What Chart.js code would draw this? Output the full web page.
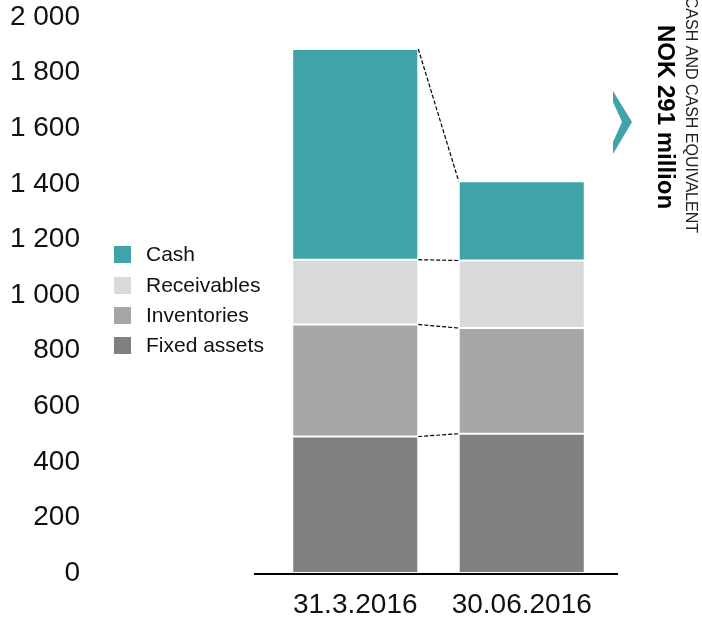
<!DOCTYPE html>
<html>
<head>
<meta charset="utf-8">
<script src="https://cdn.jsdelivr.net/npm/chart.js"></script>
<style>
  html, body { margin: 0; padding: 0; background: #fff; }
  #wrap { width: 702px; height: 624px; position: relative; }
</style>
</head>
<body>
<div id="wrap"><canvas id="myChart" width="702" height="624"></canvas></div>
<script>
// data (NOK million)
const categories = ['31.3.2016', '30.06.2016'];
const fixedAssets = [491, 501];
const inventories = [403, 380];
const receivables = [233, 243];
const cash = [758, 285];
const yTicks = [0, 200, 400, 600, 800, 1000, 1200, 1400, 1600, 1800, 2000];

const FONT = "'Liberation Sans', Arial, sans-serif";
const TEAL = '#3ea4a9';

// dashed lines joining the stack levels of the two bars
const connectors = {
  id: 'connectors',
  afterDatasetsDraw(chart) {
    const ctx = chart.ctx;
    ctx.save();
    ctx.strokeStyle = '#000';
    ctx.lineWidth = 1.2;
    ctx.setLineDash([4, 2]);
    chart.data.datasets.forEach((ds, i) => {
      const els = chart.getDatasetMeta(i).data;
      const a = els[0], b = els[1];
      ctx.beginPath();
      ctx.moveTo(a.x + a.width / 2, a.y);
      ctx.lineTo(b.x - b.width / 2, b.y);
      ctx.stroke();
    });
    ctx.restore();
  }
};

// baseline, legend, chevron and side note
const extras = {
  id: 'extras',
  afterDraw(chart) {
    const ctx = chart.ctx;
    const area = chart.chartArea;
    ctx.save();
    // axis line
    ctx.strokeStyle = '#000';
    ctx.lineWidth = 2;
    ctx.beginPath();
    ctx.moveTo(area.left - 18, area.bottom + 1);
    ctx.lineTo(area.right + 13, area.bottom + 1);
    ctx.stroke();

    // legend, top item = top of the stack
    const items = chart.data.datasets.slice().reverse();
    const tops = [246, 277, 307, 337];
    ctx.font = '21px ' + FONT;
    ctx.textBaseline = 'middle';
    ctx.textAlign = 'left';
    items.forEach((ds, i) => {
      ctx.fillStyle = ds.backgroundColor;
      ctx.fillRect(114, tops[i], 17, 17);
      ctx.fillStyle = '#111';
      ctx.fillText(ds.label, 146, tops[i] + 9);
    });

    // chevron
    ctx.fillStyle = TEAL;
    ctx.beginPath();
    ctx.moveTo(613, 91);
    ctx.lineTo(632, 122);
    ctx.lineTo(613, 154);
    ctx.lineTo(613, 142);
    ctx.lineTo(622, 122);
    ctx.lineTo(613, 102);
    ctx.closePath();
    ctx.fill();

    // rotated side text
    ctx.save();
    ctx.translate(686, 0);
    ctx.rotate(Math.PI / 2);
    ctx.textBaseline = 'alphabetic';
    ctx.textAlign = 'right';
    ctx.fillStyle = '#222';
    ctx.font = '16px ' + FONT;
    ctx.fillText('CASH AND CASH EQUIVALENT', 233, 0);
    ctx.restore();

    ctx.save();
    ctx.translate(658, 0);
    ctx.rotate(Math.PI / 2);
    ctx.textBaseline = 'alphabetic';
    ctx.textAlign = 'left';
    ctx.fillStyle = '#000';
    ctx.font = 'bold 24px ' + FONT;
    ctx.fillText('NOK 291 million', 25, 0);
    ctx.restore();

    ctx.restore();
  }
};

const barStyle = {
  borderColor: '#fff',
  borderWidth: 1,
  borderSkipped: false,
  barPercentage: 0.757,
  categoryPercentage: 1
};

new Chart(document.getElementById('myChart'), {
  type: 'bar',
  data: {
    labels: categories,
    datasets: [
      Object.assign({ label: 'Fixed assets', data: fixedAssets, backgroundColor: '#808080' }, barStyle),
      Object.assign({ label: 'Inventories', data: inventories, backgroundColor: '#a6a6a6' }, barStyle),
      Object.assign({ label: 'Receivables', data: receivables, backgroundColor: '#d9d9d9' }, barStyle),
      Object.assign({ label: 'Cash', data: cash, backgroundColor: TEAL }, barStyle)
    ]
  },
  options: {
    responsive: false,
    animation: false,
    layout: { padding: { left: 0, right: 97, top: 17, bottom: 0 } },
    plugins: { legend: { display: false }, tooltip: { enabled: false } },
    scales: {
      x: {
        stacked: true,
        afterFit(scale) {
          scale.height = 51;
          scale.paddingLeft = 0;
          scale.paddingRight = 0;
        },
        grid: { display: false, drawTicks: false },
        border: { display: false },
        ticks: { color: '#111', font: { family: FONT, size: 28 }, padding: 15, maxRotation: 0, minRotation: 0 }
      },
      y: {
        stacked: true,
        min: 0,
        max: 2000,
        afterFit(scale) {
          // the wide tick padding is only meant horizontally
          scale.width = 272;
          scale.paddingTop = 0;
          scale.paddingBottom = 0;
        },
        afterBuildTicks(scale) { scale.ticks = yTicks.map(v => ({ value: v })); },
        grid: { display: false, drawTicks: false },
        border: { display: false },
        ticks: {
          color: '#111',
          padding: 192,
          font: { family: FONT, size: 28 },
          callback: v => String(v).replace(/\B(?=(\d{3})+(?!\d))/g, ' ')
        }
      }
    }
  },
  plugins: [connectors, extras]
});
</script>
</body>
</html>
